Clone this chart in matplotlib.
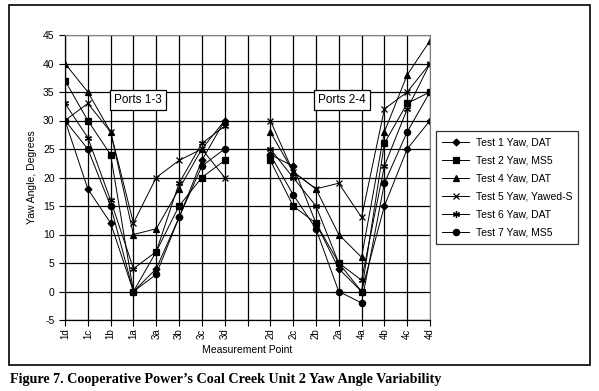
import numpy as np
import matplotlib
matplotlib.use("Agg")
import matplotlib.pyplot as plt

# categorias del eje x (hueco entre los dos grupos de puertos)
points = ['1d', '1c', '1b', '1a', '3a', '3b', '3c', '3d', '',
          '2d', '2c', '2b', '2a', '4a', '4b', '4c', '4d']

# valores (None = hueco)
test1 = [30, 18, 12, 0, 4, 13, 23, 30, None, 24, 22, 12, 4, 0, 15, 25, 30]
test2 = [37, 30, 24, 0, 7, 15, 20, 23, None, 23, 15, 12, 5, 0, 26, 33, 35]
test4 = [40, 35, 28, 10, 11, 18, 25, 30, None, 28, 21, 18, 10, 6, 28, 38, 44]
test5 = [30, 33, 28, 12, 20, 23, 25, 20, None, 30, 21, 18, 19, 13, 32, 35, 40]
test6 = [33, 27, 16, 4, 7, 19, 26, 29, None, 25, 20, 15, 5, 2, 22, 32, 40]
test7 = [30, 25, 15, 0, 3, 13, 22, 25, None, 24, 17, 11, 0, -2, 19, 28, 35]

labels = ['Test 1 Yaw, DAT', 'Test 2 Yaw, MS5', 'Test 4 Yaw, DAT',
          'Test 5 Yaw, Yawed-S', 'Test 6 Yaw, DAT', 'Test 7 Yaw, MS5']
series = [test1, test2, test4, test5, test6, test7]
markers = ['D', 's', '^', 'x', (6, 2, 0), 'o']
msizes = [3.5, 4.5, 5, 4, 5, 4.5]

plt.rcParams['font.family'] = ['Liberation Sans', 'DejaVu Sans']
plt.rcParams['axes.unicode_minus'] = False

fig = plt.figure(figsize=(5.99, 3.91), dpi=100)
ax = fig.add_axes([65 / 599, 1 - 320 / 391, (430 - 65) / 599, (320 - 35) / 391])

x = np.arange(len(points))
for vals, lab, m, ms in zip(series, labels, markers, msizes):
    y = np.array([np.nan if v is None else v for v in vals], dtype=float)
    ax.plot(x, y, color='black', linewidth=0.7, marker=m, markersize=ms,
            markeredgewidth=0.9, label=lab)

ax.set_xlim(0, len(points) - 1)
ax.set_ylim(-5, 45)
ax.set_yticks(range(-5, 50, 5))
ax.set_xticks(x)
ax.set_xticklabels(points, rotation=90, fontsize=7)
ax.tick_params(axis='y', labelsize=7.5, length=4, width=0.8)
ax.tick_params(axis='x', length=4, width=0.8, pad=2)
ax.grid(True, color='black', linewidth=0.9)
ax.set_axisbelow(True)
for s in ['top', 'right']:
    ax.spines[s].set_color('gray')
ax.spines['left'].set_linewidth(0.9)
ax.spines['bottom'].set_linewidth(0.9)

ax.set_xlabel('Measurement Point', fontsize=7.5, labelpad=4)
ax.set_ylabel('Yaw Angle, Degrees', fontsize=7.5, labelpad=4)

box = dict(boxstyle='square,pad=0.35', facecolor='white', edgecolor='black', linewidth=0.9)
ax.text(3.2, 33.6, 'Ports 1-3', fontsize=8.5, ha='center', va='center', bbox=box)
ax.text(12.15, 33.6, 'Ports 2-4', fontsize=8.5, ha='center', va='center', bbox=box)

leg = fig.legend(loc='upper left', bbox_to_anchor=(436 / 599, 1 - 131 / 391),
                 borderaxespad=0, fontsize=7.5, frameon=True, fancybox=False,
                 edgecolor='black', handlelength=2.6, labelspacing=0.78,
                 borderpad=0.6, handletextpad=0.6)
leg.get_frame().set_linewidth(0.9)

# marco exterior
fig.patches.append(plt.Rectangle((9 / 599, 1 - 365 / 391), (590 - 9) / 599, (365 - 5) / 391,
                                 transform=fig.transFigure, fill=False,
                                 edgecolor='black', linewidth=1.2))

fig.text(10 / 599, 1 - 379 / 391,
         'Figure 7. Cooperative Power\u2019s Coal Creek Unit 2 Yaw Angle Variability',
         fontsize=10.2, fontweight='bold', family='Liberation Serif', va='center')

fig.savefig('out.png', dpi=100)
